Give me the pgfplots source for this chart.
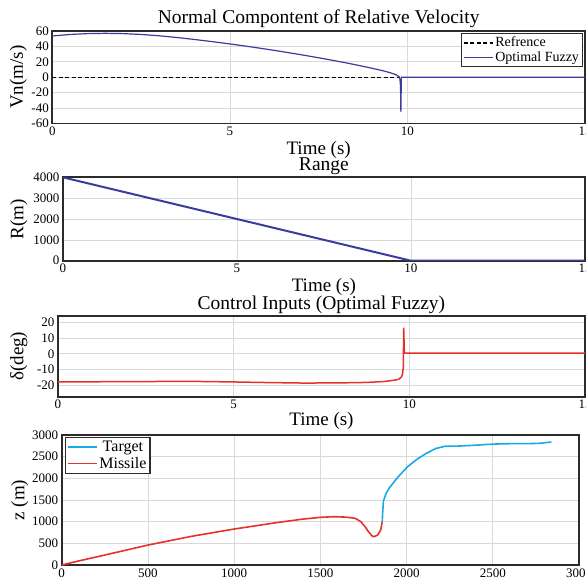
\documentclass[border=0pt]{standalone}
\usepackage{fontspec}
\setmainfont{Liberation Serif}
\usepackage{pgfplots}
\pgfplotsset{compat=1.18}

\definecolor{fuzzyblue}{HTML}{3B3BA0}
\definecolor{ctrlred}{HTML}{E8302A}
\definecolor{tgtcyan}{HTML}{1BA9E6}
\definecolor{framegray}{HTML}{2B2B2B}

\pgfplotsset{
  panel/.style={
    scale only axis, anchor=north west,
    axis line style={draw=framegray, line width=2pt},
    grid=major, grid style={gray!30, line width=0.7pt},
    major tick length=0pt,
    tick label style={font=\fontsize{13}{13}\selectfont},
    /pgf/number format/assume math mode=true,
    /pgf/number format/1000 sep={},
    scaled ticks=false,
    label style={font=\fontsize{19}{19}\selectfont},
    title style={font=\fontsize{19.5}{19.5}\selectfont, anchor=center},
    xlabel style={anchor=center},
    ylabel style={anchor=center},
    legend image code/.code={\draw[##1, line width=1.6pt] (0pt,0pt) -- (29pt,0pt);},
  },
  timeaxis/.style={
    xmin=0, xmax=15, xtick={0,5,10,15}, xlabel={Time (s)},
  },
}

\begin{document}
\begin{tikzpicture}
\useasboundingbox (0pt,0pt) rectangle (586pt,-582pt);
\clip (0pt,0pt) rectangle (586pt,-582pt);

% normal component of relative velocity
\begin{axis}[panel, timeaxis,
  at={(52.3pt,-31pt)}, width=532.7pt, height=92.3pt,
  axis line style={line width=1.6pt},
  ymin=-60, ymax=60, ytick={-60,-40,...,60},
  ylabel={Vn(m/s)},
  title={Normal Compontent of Relative Velocity},
  title style={at={([yshift=6pt]axis description cs:0.5,1)}},
  xlabel style={at={([yshift=-27pt]axis description cs:0.5,0)}},
  ylabel style={at={([xshift=-34pt]axis description cs:0,0.5)}},
  legend style={at={(1,1)}, anchor=north east, xshift=-2pt, yshift=-2pt,
    draw=framegray, line width=1.1pt, font=\fontsize{14}{14}\selectfont,
    inner sep=1.5pt, row sep=-0.5pt},
  legend cell align=left]
\addplot[black, line width=1.3pt, dash pattern=on 4pt off 2.5pt] coordinates {(0,0)(9.78,0)};
\addlegendentry{Refrence}
\addplot[fuzzyblue, line width=1.2pt] coordinates {
 (0,53.5)(0.5,55.5)(1,56.6)(1.5,57)(2,56.6)(2.5,55.5)(3,53.8)(3.5,51.6)
 (4,49)(4.5,46.2)(5,43.2)(5.5,40)(6,36.6)(6.5,33)(7,29.2)(7.5,25.2)
 (8,21)(8.5,16.5)(9,11.6)(9.3,8.4)(9.5,6)(9.65,3.6)(9.72,2)(9.77,0.2)
 (9.79,-3)(9.805,-12)(9.815,-45)(9.83,0)(15,0)};
\addlegendentry{Optimal Fuzzy}
\end{axis}

% range
\begin{axis}[panel, timeaxis,
  at={(62.8pt,-177.3pt)}, width=522.2pt, height=83.4pt,
  ymin=0, ymax=4000, ytick={0,1000,...,4000},
  ylabel={R(m)}, title={Range},
  title style={at={([yshift=5pt]axis description cs:0.5,1)}},
  xlabel style={at={([yshift=-26pt]axis description cs:0.5,0)}},
  ylabel style={at={([xshift=-44pt]axis description cs:0,0.5)}}]
\addplot[fuzzyblue, line width=2pt] coordinates {(0,4000)(10,0)(15,0)};
\end{axis}

% control inputs
\begin{axis}[panel, timeaxis,
  at={(57.9pt,-315.7pt)}, width=527.1pt, height=81pt,
  ymin=-27, ymax=24, ytick={-20,-10,...,20},
  ylabel={δ(deg)}, title={Control Inputs (Optimal Fuzzy)},
  title style={at={([yshift=5pt]axis description cs:0.5,1)}},
  xlabel style={at={([yshift=-24pt]axis description cs:0.5,0)}},
  ylabel style={at={([xshift=-39pt]axis description cs:0,0.5)}}]
\addplot[ctrlred, line width=1.5pt] coordinates {
 (0,-17.7)(1,-17.6)(2,-17.5)(3,-17.4)(4,-17.4)(5,-17.7)(6,-18.1)(7,-18.4)
 (8,-18.3)(8.8,-18)(9.3,-17.4)(9.6,-16.5)(9.7,-16)(9.78,-14.5)(9.81,-12.5)
 (9.83,-8)(9.84,16.5)(9.86,0.4)(15,0.4)};
\end{axis}

% trajectories
\begin{axis}[panel,
  at={(61.7pt,-435pt)}, width=517.3pt, height=130pt,
  xmin=0, xmax=3000, xtick={0,500,...,3000},
  ymin=0, ymax=3000, ytick={0,500,...,3000},
  ylabel={z (m)},
  ylabel style={at={([xshift=-42pt]axis description cs:0,0.5)}},
  legend style={at={(0,1)}, anchor=north west, xshift=3pt, yshift=-2pt,
    draw=framegray, line width=1.1pt, font=\fontsize{16}{16}\selectfont,
    inner sep=1.5pt, row sep=0pt},
  legend cell align=center]
\addplot[tgtcyan, line width=1.6pt] coordinates {
 (1859,1000)(1862,1250)(1866,1480)(1880,1640)(1898,1770)(1950,2030)
 (2006,2270)(2060,2440)(2115,2577)(2170,2690)(2223,2740)(2300,2745)
 (2400,2765)(2500,2790)(2600,2800)(2700,2800)(2780,2810)(2840,2840)};
\addlegendentry{Target}
\addplot[ctrlred, line width=1.6pt] coordinates {
 (0,0)(100,95)(250,230)(500,460)(750,660)(1000,830)(1250,980)(1400,1060)
 (1500,1100)(1580,1115)(1650,1105)(1703,1077)(1735,1000)(1760,880)
 (1779,770)(1800,670)(1811,654)(1833,692)(1850,808)(1859,1000)};
\addlegendentry{Missile}
\end{axis}
\end{tikzpicture}
\end{document}
